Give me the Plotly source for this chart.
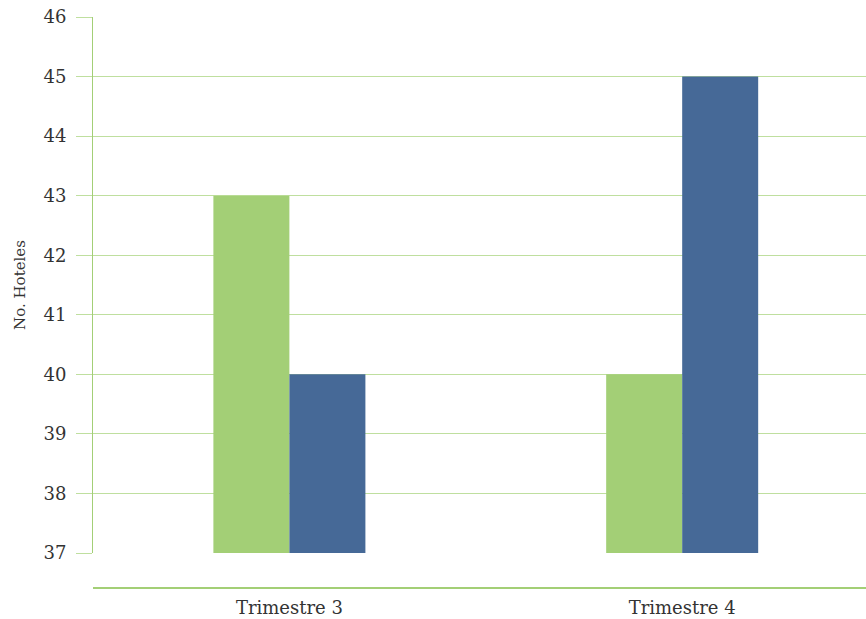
import plotly.graph_objects as go

categories = ["Trimestre 3", "Trimestre 4"]
serie_a = [43, 40]
serie_b = [40, 45]
y_ticks = [37, 38, 39, 40, 41, 42, 43, 44, 45, 46]

green = "#a3cf76"
blue = "#466997"
grid = "#bfdf9f"
font = "DejaVu Serif"

fig = go.Figure()
fig.add_trace(go.Bar(x=categories, y=[v - 37 for v in serie_a], base=37, marker_color=green,
                     marker_line_width=0, showlegend=False))
fig.add_trace(go.Bar(x=categories, y=[v - 37 for v in serie_b], base=37, marker_color=blue,
                     marker_line_width=0, showlegend=False))

fig.update_layout(
    width=866, height=619,
    margin=dict(l=93, r=0, t=17, b=31),
    plot_bgcolor="white", paper_bgcolor="white",
    barmode="group", bargap=0.613, bargroupgap=0,
    font=dict(family=font, color="#333333"),
    xaxis=dict(anchor="free", position=0, showline=True, linecolor=green, linewidth=1.5,
               range=[-0.5, 1.468],
               showgrid=False, ticks="", automargin=False, ticklabelstandoff=4,
               tickfont=dict(size=18, family=font, color="#333333")),
    yaxis=dict(domain=[0.0613, 1], range=[37, 46], tickvals=y_ticks, showgrid=True, gridcolor=grid,
               gridwidth=1, showline=True, linecolor=green, linewidth=1, ticks="outside",
               ticklen=16, tickcolor=grid, ticklabelstandoff=6, automargin=False,
               tickfont=dict(size=18, family=font, color="#333333"),
               title=dict(text="No. Hoteles", font=dict(size=15, family=font, color="#333333"), standoff=14),
               zeroline=False),
)
fig.write_html("out.html", config={"displayModeBar": False},
               post_script="document.body.style.margin='0';document.body.style.overflow='hidden';")
